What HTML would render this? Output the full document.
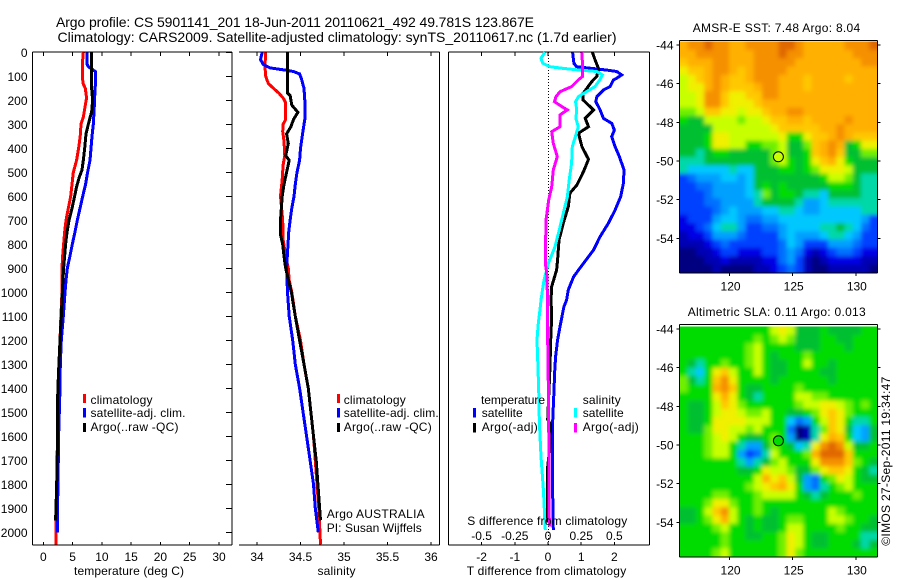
<!DOCTYPE html>
<html>
<head>
<meta charset="utf-8">
<title>Argo profile</title>
<style>
html,body{margin:0;padding:0;background:#fff;}
svg{display:block;}
text{font-family:"Liberation Sans",sans-serif;font-size:12px;fill:#000;}
.t{font-size:14px;}
</style>
</head>
<body>
<svg id="fig" xmlns="http://www.w3.org/2000/svg" width="900" height="580" viewBox="0 0 900 580">
<defs>
<filter id="soft" filterUnits="userSpaceOnUse" x="650" y="0" width="250" height="580"><feGaussianBlur stdDeviation="2"/></filter>
<clipPath id="clip-sst"><rect x="679.5" y="41.5" width="198" height="231"/></clipPath>
<clipPath id="clip-sla"><rect x="679.5" y="326.5" width="198" height="230"/></clipPath>
</defs>
<rect x="0" y="0" width="900" height="580" fill="#fff"/>

<text class="t" x="56" y="27" textLength="478">Argo profile: CS 5901141_201 18-Jun-2011 20110621_492 49.781S 123.867E</text>
<text class="t" x="57.5" y="42" textLength="559">Climatology: CARS2009. Satellite-adjusted climatology: synTS_20110617.nc (1.7d earlier)</text>

<g id="p1"></g>
<g id="p2"></g>
<g id="p3"></g>
<g id="m1"></g>
<g id="m2"></g>

<text x="74" y="575" textLength="110">temperature (deg C)</text>
<text x="317.5" y="575" textLength="38">salinity</text>
<text x="466.7" y="575" textLength="159.5">T difference from climatology</text>
<text x="467.3" y="525" textLength="160">S difference from climatology</text>

<g>
<rect x="83" y="394" width="3" height="9" fill="#f00"/>
<rect x="83" y="408" width="3" height="9.5" fill="#00f"/>
<rect x="83" y="423" width="3" height="9" fill="#000"/>
<text x="90.5" y="404" textLength="62">climatology</text>
<text x="90.5" y="417" textLength="95">satellite-adj. clim.</text>
<text x="90.5" y="431" textLength="88">Argo(..raw -QC)</text>
</g>
<g>
<rect x="337" y="394" width="3" height="9" fill="#f00"/>
<rect x="337" y="408" width="3" height="9.5" fill="#00f"/>
<rect x="337" y="423" width="3" height="9" fill="#000"/>
<text x="343.7" y="404" textLength="62">climatology</text>
<text x="343.7" y="417" textLength="95">satellite-adj. clim.</text>
<text x="343.7" y="431" textLength="88">Argo(..raw -QC)</text>
<text x="326.7" y="518" textLength="98">Argo AUSTRALIA</text>
<text x="326.7" y="532" textLength="95">PI: Susan Wijffels</text>
</g>

<text x="692.7" y="32" textLength="167.5">AMSR-E SST: 7.48 Argo: 8.04</text>
<text x="687.7" y="316" textLength="178">Altimetric SLA: 0.11 Argo: 0.013</text>
<text transform="translate(890,545.7) rotate(-90)" textLength="169">©IMOS 27-Sep-2011 19:34:47</text>
</svg>

<script>
// ---------- profile data (depth in dbar) ----------
var depthTicks = [0,100,200,300,400,500,600,700,800,900,1000,1100,1200,1300,1400,1500,1600,1700,1800,1900,2000];
var tempTicks = [0,5,10,15,20,25,30];
var salTicks = [34,34.5,35,35.5,36];
var salTickLabels = ['34','34.5','35','35.5','36'];
var tDiffTicks = [-2,-1,0,1,2];
var sDiffTicks = [-0.5,-0.25,0,0.25,0.5];
var sDiffTickLabels = ['-0.5','-0.25','0','0.25','0.5'];

var tempClimDepth = [0,50,100,130,150,190,220,270,300,350,400,450,500,550,600,650,700,750,800,850,900,1000,1100,1200,1300,1400,1500,1650,1800,1900,2050];
var tempClimValue = [6.83,6.66,6.66,6.8,7.17,7.4,7.17,6.83,6.43,6.3,6.03,5.69,5.12,4.9,4.67,4.27,3.87,3.64,3.47,3.3,3.19,3.19,3.0,2.85,2.67,2.56,2.56,2.39,2.28,2.16,2.16];
var tempSatDepth = [0,50,60,80,140,150,200,250,300,350,400,450,500,550,600,650,700,750,800,850,900,950,1000,1100,1200,1300,1400,1500,1600,1700,1800,1900,2000];
var tempSatValue = [7.5,7.5,7.7,8.88,8.88,8.82,8.76,8.65,8.54,8.31,8.14,7.97,7.57,7.23,6.72,6.26,5.8,5.4,4.95,4.55,4.1,3.87,3.7,3.41,3.07,2.9,2.85,2.73,2.62,2.56,2.5,2.45,2.39];
var tempArgoDepth = [0,100,150,200,250,270,300,340,400,450,490,520,560,600,650,700,750,800,850,900,1000,1100,1200,1300,1400,1450,1650,1800,1950];
var tempArgoValue = [8.2,8.2,8.25,8.42,8.25,8.0,7.68,7.29,7.06,6.83,6.6,6.15,5.69,5.35,4.9,4.38,4.04,3.81,3.64,3.47,3.24,3.07,2.85,2.67,2.5,2.45,2.4,2.28,2.1];

var salClimDepth = [0,30,50,100,110,130,150,170,190,210,240,280,300,330,370,430,470,530,600,700,780,850,900,950,1000,1100,1200,1300,1400,1500,1600,1700,1800,1900,2050];
var salClimValue = [34.10,34.097,34.09,34.1,34.11,34.13,34.19,34.25,34.30,34.33,34.33,34.33,34.30,34.295,34.31,34.32,34.30,34.29,34.27,34.295,34.30,34.33,34.36,34.37,34.40,34.44,34.50,34.54,34.59,34.62,34.65,34.67,34.69,34.71,34.73];
var salSatDepth = [0,30,50,65,75,80,90,110,150,200,280,300,350,400,450,500,550,600,650,700,750,800,900,1000,1100,1200,1300,1400,1500,1600,1700,1800,1900,2000];
var salSatValue = [34.06,34.04,34.07,34.15,34.34,34.42,34.49,34.51,34.54,34.55,34.55,34.54,34.52,34.5,34.49,34.46,34.44,34.425,34.40,34.38,34.364,34.356,34.34,34.35,34.37,34.41,34.44,34.49,34.53,34.57,34.61,34.65,34.67,34.705];
var salArgoDepth = [0,170,180,220,250,280,310,340,380,430,450,500,550,600,700,760,800,850,900,1000,1100,1200,1300,1400,1500,1600,1700,1800,1950];
var salArgoValue = [34.35,34.35,34.38,34.40,34.47,34.42,34.39,34.34,34.36,34.33,34.37,34.34,34.31,34.29,34.27,34.27,34.295,34.31,34.33,34.395,34.44,34.49,34.54,34.59,34.62,34.65,34.68,34.70,34.73];

var dTSatDepth = [0,46,60,74,80,94,108,115,143,157,185,206,240,275,296,324,351,393,435,490,546,601,657,712,768,824,879,935,990,1032,1060,1130,1198,1268,1337,1410,1476,1545,1680,1820,1990];
var dTSatValue = [0.74,0.78,0.86,1.77,2.07,2.22,2.07,1.97,1.87,1.67,1.47,1.44,1.57,1.67,1.92,2.0,1.92,2.02,2.15,2.29,2.27,2.19,2.02,1.82,1.57,1.37,1.07,0.77,0.61,0.56,0.48,0.38,0.29,0.23,0.2,0.18,0.16,0.14,0.13,0.14,0.16];
var dTArgoDepth = [0,32,67,101,122,171,199,240,275,310,337,393,446,497,553,587,643,712,782,865,907,976,1032,1100,1198,1310,1530,1550,1630,1726,1960];
var dTArgoValue = [1.34,1.42,1.52,1.47,1.32,1.06,1.06,1.37,1.12,1.22,0.92,1.02,1.22,1.07,0.87,0.66,0.61,0.46,0.33,0.29,0.26,0.11,0.09,0.11,0.08,0.06,-0.01,0.07,0.07,-0.01,-0.01];
var dSSatDepth = [0,25,46,60,67,74,80,94,115,143,164,185,206,240,275,310,344,393,462,532,601,671,740,810,879,949,1032,1073,1130,1198,1268,1407,1545,1684,1823,1990];
var dSSatValue = [-0.023,-0.053,-0.04,0.015,0.115,0.24,0.366,0.41,0.39,0.354,0.29,0.228,0.208,0.216,0.21,0.228,0.21,0.183,0.178,0.16,0.146,0.115,0.085,0.053,0.003,-0.03,-0.053,-0.06,-0.073,-0.083,-0.078,-0.07,-0.065,-0.053,-0.035,-0.02];
var dSArgoDepth = [0,46,101,115,143,164,185,206,226,240,261,310,331,379,435,490,560,615,699,879,921,1032,1130,1268,1545,1823,1976];
var dSArgoValue = [0.254,0.26,0.26,0.228,0.178,0.09,0.06,0.048,0.103,0.146,0.09,0.09,0.028,0.04,0.07,0.04,0.028,0.005,-0.015,-0.02,-0.01,-0.003,-0.005,0,0.005,0.008,0.01];

// ---------- map data (colour-level per grid cell, north to south) ----------
var mapLatTicks = [-44,-46,-48,-50,-52,-54];
var mapLonTicks = [120,125,130];
var sstLevels = [
[14,15,15,16,15,15,14,14,15,15,15,15,16,16,15,14,14,14,14,14,15,15,15,16],
[14,14,15,15,15,15,14,14,14,15,15,15,16,15,15,14,14,14,14,14,14,15,15,15],
[13,14,14,14,15,15,14,14,14,15,15,15,15,15,14,14,14,14,14,14,14,14,15,15],
[12,13,13,14,15,15,14,13,14,15,15,15,15,14,14,14,14,14,14,14,14,14,14,14],
[11,12,13,14,15,14,13,13,14,15,15,15,14,14,14,13,14,14,14,14,13,14,14,14],
[11,12,12,14,15,14,13,13,13,14,15,15,14,14,14,13,14,14,14,14,14,14,14,14],
[11,11,12,15,15,13,12,12,13,13,15,15,14,14,14,14,14,14,14,14,14,14,14,14],
[11,11,12,15,15,13,12,12,12,13,14,14,14,14,14,14,14,14,14,14,14,14,14,14],
[10,10,11,13,13,12,12,11,12,12,13,14,14,15,15,14,14,14,14,14,14,14,14,14],
[9,8,8,11,11,11,11,10,11,11,12,13,13,14,14,13,14,14,14,14,15,14,14,14],
[8,8,8,8,11,11,11,11,11,11,11,12,13,13,13,13,13,14,14,15,14,14,14,14],
[8,8,8,9,12,12,11,11,11,11,11,11,12,9,9,12,13,13,14,15,14,13,13,13],
[8,8,8,9,12,12,11,11,9,9,10,10,11,8,8,10,13,14,15,14,8,9,12,12],
[8,8,7,8,9,9,8,8,8,8,8,10,11,8,8,9,13,14,15,13,8,8,10,10],
[7,7,7,8,8,8,8,8,8,8,8,10,11,9,8,9,12,13,14,12,9,8,8,8],
[7,6,6,6,6,6,7,6,6,8,8,8,9,9,8,9,10,12,12,12,11,8,8,8],
[3,4,5,5,5,6,6,5,6,8,8,8,8,8,8,8,8,9,11,11,10,8,7,7],
[3,3,4,4,5,5,5,5,6,8,9,8,9,8,8,8,8,8,9,9,9,8,7,7],
[3,3,3,4,5,5,5,5,6,7,10,8,9,9,8,7,7,6,8,8,8,8,7,7],
[3,3,3,4,4,5,5,5,5,7,8,8,8,8,7,5,5,6,7,7,7,7,7,7],
[3,3,3,3,4,5,6,5,5,5,6,6,7,7,6,5,5,6,6,6,6,6,7,7],
[2,3,3,3,5,6,6,5,4,4,5,5,6,6,6,6,6,6,6,6,6,6,5,3],
[2,2,3,4,6,7,7,5,3,3,4,4,5,6,6,6,6,7,7,8,7,6,4,3],
[1,2,2,3,5,5,5,4,3,3,3,3,5,6,5,5,5,6,7,7,6,5,3,3],
[1,1,1,2,3,4,3,3,3,3,3,3,4,6,5,3,3,3,5,5,5,4,3,3],
[0,0,1,1,2,3,3,2,2,2,3,3,4,5,4,2,1,2,3,4,4,3,2,2],
[0,0,0,1,1,2,1,1,1,1,2,2,4,5,3,1,0,1,2,2,2,2,1,1],
[0,0,0,0,1,0,0,0,0,1,1,2,3,4,3,1,0,0,1,1,1,1,1,0]
];
var slaLevels = [
[9,9,9,9,9,9,9,9,9,9,9,11,12,11,8,8,8,9,8,8,8,8,9,9],
[9,9,9,9,9,9,9,9,9,10,9,10,11,10,8,8,8,9,9,8,8,9,9,9],
[9,9,9,9,9,9,9,9,10,11,9,9,9,9,8,8,8,9,9,9,8,9,9,9],
[9,9,9,9,9,9,9,9,10,11,9,8,9,9,9,10,9,9,9,9,9,9,9,9],
[9,8,7,9,9,10,9,9,10,11,9,8,8,9,9,11,9,9,8,9,9,9,9,9],
[9,7,6,9,12,13,11,9,9,11,9,8,8,9,9,9,9,8,8,9,9,9,9,9],
[10,8,7,9,13,15,12,9,9,9,9,8,9,9,9,9,9,9,8,9,9,9,9,9],
[10,9,9,9,14,15,13,9,8,8,9,9,9,9,10,9,9,9,9,9,9,9,9,9],
[9,9,9,9,12,14,12,9,8,7,9,9,9,9,11,11,10,10,9,9,9,9,9,9],
[9,8,8,9,11,13,12,10,9,9,9,9,9,9,10,11,11,12,12,11,10,9,10,9],
[9,8,8,9,11,12,12,11,10,10,11,9,9,8,8,9,10,12,13,12,10,9,9,9],
[9,8,8,9,12,12,12,12,11,11,11,9,9,6,4,5,9,11,13,12,9,7,7,9],
[9,8,8,10,12,12,11,11,10,11,9,9,9,4,0,1,7,10,13,12,8,6,5,8],
[9,9,9,10,11,12,11,9,8,8,9,10,9,5,0,1,7,12,14,13,9,6,5,8],
[9,9,9,10,11,11,9,7,5,5,8,10,9,8,6,7,12,15,16,15,11,8,8,9],
[9,9,9,10,11,11,9,5,3,4,7,11,9,9,9,10,14,16,16,16,13,9,9,9],
[9,9,9,9,9,9,9,7,5,7,8,10,11,9,9,9,12,15,15,15,13,10,9,8],
[9,9,9,9,9,9,9,8,8,9,12,11,11,10,8,8,10,12,13,13,12,9,8,7],
[9,9,9,9,9,9,9,9,9,11,14,12,13,11,8,5,4,9,10,12,11,9,8,8],
[9,9,9,9,9,9,9,9,10,11,12,13,14,12,9,5,4,7,9,10,11,9,9,9],
[9,9,9,9,10,10,9,9,9,10,11,11,11,11,9,8,7,8,9,9,9,10,9,9],
[9,9,9,10,12,12,10,9,9,10,9,9,9,9,9,9,9,9,9,9,9,9,9,9],
[8,8,9,11,13,15,11,9,9,10,9,8,9,9,9,9,9,9,11,10,9,9,9,9],
[8,8,9,10,12,14,11,9,8,9,8,8,9,10,10,9,9,9,11,11,10,9,9,8],
[9,9,9,9,10,11,9,9,8,9,8,8,9,11,11,9,9,9,9,10,9,9,8,8],
[9,9,9,9,9,10,9,9,8,8,9,9,10,12,11,9,8,8,9,9,9,9,7,7],
[9,9,9,9,9,10,9,9,9,9,9,9,10,12,11,9,8,8,9,9,9,8,7,8],
[9,9,9,9,10,11,9,9,9,9,9,9,10,12,10,9,9,9,9,9,9,9,9,9]
];
var levelColors = ['#000080','#0000b4','#0000e6','#0040ff','#0070ff','#00a0ff','#00c8ff','#00d8a8','#00c030','#00dc00','#70f000','#c8ff00','#f0f000','#ffc800','#ffb000','#f59000','#e06800'];
var floatLon = 123.867;
var floatLat = -49.781;
var floatSstLevel = 11.3;
var floatSlaLevel = 9;

// ---------- scales ----------
function yDepth(d){ return 52.3 + 0.24*d; }
function xTemp(v){ return 43.3 + 5.857*v; }
function xSal(v){ return 257 + 87*(v-34); }
function xDT(v){ return 548 + 33.2*v; }
function xDS(v){ return 548 + 132.8*v; }
function xLon(v){ return 792.7 + 12.63*(v-125); }
function ySstLat(v){ return 161 + (-50-v)*19.33; }
function ySlaLat(v){ return 445 + (-50-v)*19.33; }

var NS='http://www.w3.org/2000/svg';
function mk(parent,tag,attrs){
  var e=document.createElementNS(NS,tag);
  for(var k in attrs){e.setAttribute(k,attrs[k]);}
  parent.appendChild(e);
  return e;
}
function segment(parent,x1,y1,x2,y2,name){
  var l=mk(parent,'line',{x1:x1,y1:y1,x2:x2,y2:y2,stroke:'#000','stroke-width':1,'shape-rendering':'crispEdges'});
  
  
  return l;
}
function label(parent,x,y,str,anchor,name){
  var t=mk(parent,'text',{x:x,y:y,'text-anchor':anchor});
  t.textContent=str;
  
  
  return t;
}
function curve(parent,depths,vals,xf,color,width,name){
  var pts=[];
  for(var i=0;i<depths.length;i++){pts.push(xf(vals[i]).toFixed(1)+','+yDepth(depths[i]).toFixed(1));}
  var p=mk(parent,'polyline',{points:pts.join(' '),fill:'none',stroke:color,'stroke-width':width,'stroke-linejoin':'miter','shape-rendering':'crispEdges'});
  
  
  return p;
}

// ---------- temperature panel ----------
var p1=document.getElementById('p1');
segment(p1,32.5,52,232,52,'top-axis');
segment(p1,32.5,545,232,545,'bottom-axis');
segment(p1,32.5,52,32.5,545,'left-axis');
segment(p1,232,52,232,545,'right-axis');
depthTicks.forEach(function(d){
  segment(p1,226,Math.round(yDepth(d))+0.5,232,Math.round(yDepth(d))+0.5,'depth-tick');
  label(p1,27.5,yDepth(d)+4.5,String(d),'end','depth-tick-label');
});
tempTicks.forEach(function(v){
  segment(p1,xTemp(v),52,xTemp(v),56,'temperature-top-tick');
  segment(p1,xTemp(v),542,xTemp(v),545,'temperature-bottom-tick');
  label(p1,xTemp(v),561,String(v),'middle','temperature-tick-label');
});
curve(p1,tempClimDepth,tempClimValue,xTemp,'#f00',3,'temperature-climatology-line');
curve(p1,tempSatDepth,tempSatValue,xTemp,'#00f',3,'temperature-satellite-line');
curve(p1,tempArgoDepth,tempArgoValue,xTemp,'#000',3,'temperature-argo-line');

// ---------- salinity panel ----------
var p2=document.getElementById('p2');
segment(p2,239,52,439.5,52,'top-axis');
segment(p2,239,545,439.5,545,'bottom-axis');
segment(p2,439.5,52,439.5,545,'right-axis');
salTicks.forEach(function(v,i){
  segment(p2,xSal(v),52,xSal(v),56,'salinity-top-tick');
  segment(p2,xSal(v),542,xSal(v),545,'salinity-bottom-tick');
  label(p2,xSal(v),561,salTickLabels[i],'middle','salinity-tick-label');
});
curve(p2,salClimDepth,salClimValue,xSal,'#f00',3,'salinity-climatology-line');
curve(p2,salSatDepth,salSatValue,xSal,'#00f',3,'salinity-satellite-line');
curve(p2,salArgoDepth,salArgoValue,xSal,'#000',3,'salinity-argo-line');

// ---------- difference panel ----------
var p3=document.getElementById('p3');
segment(p3,448.5,52,649.5,52,'top-axis');
segment(p3,448.5,545,649.5,545,'bottom-axis');
segment(p3,448.5,52,448.5,545,'left-axis');
segment(p3,649.5,52,649.5,545,'right-axis');
var zero=mk(p3,'line',{x1:xDT(0)+0.5,y1:52,x2:xDT(0)+0.5,y2:545,stroke:'#000','stroke-width':1,'stroke-dasharray':'1 2','shape-rendering':'crispEdges'});


tDiffTicks.forEach(function(v){
  segment(p3,xDT(v),52,xDT(v),56,'t-difference-top-tick');
  segment(p3,xDT(v),542,xDT(v),545,'t-difference-bottom-tick');
  label(p3,xDT(v),561,String(v),'middle','t-difference-tick-label');
});
sDiffTicks.forEach(function(v,i){
  label(p3,xDS(v),540,sDiffTickLabels[i],'middle','s-difference-tick-label');
});
curve(p3,dTSatDepth,dTSatValue,xDT,'#00f',3,'t-difference-satellite-line');
curve(p3,dTArgoDepth,dTArgoValue,xDT,'#000',3,'t-difference-argo-line');
curve(p3,dSSatDepth,dSSatValue,xDS,'#0ff',3,'s-difference-satellite-line');
curve(p3,dSArgoDepth,dSArgoValue,xDS,'#f0f',3,'s-difference-argo-line');

var legendLabels=[
 {x:481,y:404,w:64,s:'temperature',n:'legend-header-temperature'},
 {x:481.7,y:417,w:41,s:'satellite',n:'legend-entry-t-satellite'},
 {x:481.7,y:431,w:56,s:'Argo(-adj)',n:'legend-entry-t-argo'},
 {x:582.7,y:404,w:38,s:'salinity',n:'legend-header-salinity'},
 {x:582.7,y:417,w:41,s:'satellite',n:'legend-entry-s-satellite'},
 {x:582.7,y:431,w:56,s:'Argo(-adj)',n:'legend-entry-s-argo'}
];
legendLabels.forEach(function(o){
  var t=label(p3,o.x,o.y,o.s,'start',o.n);
  t.setAttribute('textLength',o.w);
});
var legendBars=[
 {x:473,y:408,c:'#00f',n:'legend-swatch-t-satellite'},
 {x:473,y:423,c:'#000',n:'legend-swatch-t-argo'},
 {x:574,y:408,c:'#0ff',n:'legend-swatch-s-satellite'},
 {x:574,y:423,c:'#f0f',n:'legend-swatch-s-argo'}
];
legendBars.forEach(function(o){
  var r=mk(p3,'rect',{x:o.x,y:o.y,width:3,height:9.5,fill:o.c});
  
  
});

// ---------- maps ----------
function drawMap(root,levels,yLat,top,bottom,axisTop,clipId,floatLevel,prefix){
  var clip=mk(root,'g',{'clip-path':'url(#'+clipId+')'});
  var blur=mk(clip,'g',{filter:'url(#soft)'});
  var left=679.5,right=877.5;
  var nr=levels.length,nc=levels[0].length;
  var cw=(right-left)/nc,ch=(bottom-top)/nr;
  levels.forEach(function(row,j){
    row.forEach(function(v,i){
      var x=left+i*cw,y=top+j*ch,w=cw+0.5,h=ch+0.5;
      if(i===0){x-=14;w+=14;}
      if(i===nc-1){w+=14;}
      if(j===0){y-=14;h+=14;}
      if(j===nr-1){h+=14;}
      var r=mk(blur,'rect',{x:x,y:y,width:w,height:h,fill:levelColors[Math.max(0,Math.min(16,Math.round(v)))]});
      
      
    });
  });
  segment(root,679.5,axisTop,877.5,axisTop,prefix+'-top-axis');
  segment(root,679.5,bottom+0.5,877.5,bottom+0.5,prefix+'-bottom-axis');
  segment(root,679.5,axisTop,679.5,bottom+0.5,prefix+'-left-axis');
  segment(root,877.5,axisTop,877.5,bottom+0.5,prefix+'-right-axis');
  mapLatTicks.forEach(function(v){
    segment(root,676.5,yLat(v),679.5,yLat(v),prefix+'-lat-tick');
    segment(root,877.5,yLat(v),880.5,yLat(v),prefix+'-lat-tick');
    label(root,673.5,yLat(v)+4.5,String(v),'end',prefix+'-lat-label');
  });
  mapLonTicks.forEach(function(v){
    segment(root,xLon(v),bottom+0.5,xLon(v),bottom+3.5,prefix+'-lon-tick');
    label(root,xLon(v)+1,bottom+18,String(v),'middle',prefix+'-lon-label');
  });
  var c=mk(root,'ellipse',{cx:xLon(floatLon),cy:yLat(floatLat),rx:5,ry:5,fill:levelColors[Math.round(floatLevel)],stroke:'#000','stroke-width':1});
  
  
}
drawMap(document.getElementById('m1'),sstLevels,ySstLat,41.7,272.5,40.5,'clip-sst',floatSstLevel,'sst');
drawMap(document.getElementById('m2'),slaLevels,ySlaLat,326.7,556.5,324.5,'clip-sla',floatSlaLevel,'sla');
</script>
</body>
</html>
